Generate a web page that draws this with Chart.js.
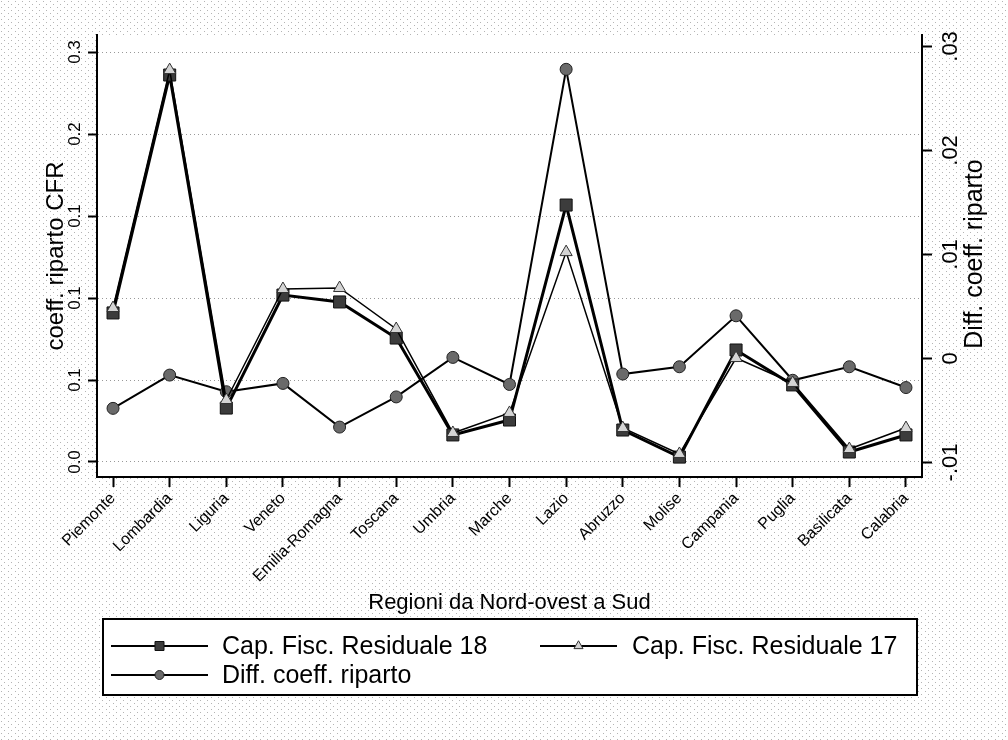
<!DOCTYPE html>
<html>
<head>
<meta charset="utf-8">
<script src="https://cdn.jsdelivr.net/npm/chart.js@4"></script>
<style>
  body { margin: 0; background: #fff; }
  canvas { display: block; }
</style>
</head>
<body>
<canvas id="lineChart" width="1008" height="740"></canvas>
<script>
// Regions, north-west to south
const regions = ['Piemonte', 'Lombardia', 'Liguria', 'Veneto', 'Emilia-Romagna', 'Toscana', 'Umbria',
  'Marche', 'Lazio', 'Abruzzo', 'Molise', 'Campania', 'Puglia', 'Basilicata', 'Calabria'];

// values (left axis)
const capFisc18 = [0.0909, 0.2360, 0.0329, 0.1018, 0.0976, 0.0756, 0.0165, 0.0256,
  0.1567, 0.0195, 0.0030, 0.0683, 0.0470, 0.0061, 0.0165];
const capFisc17 = [0.0939, 0.2390, 0.0378, 0.1055, 0.1061, 0.0811, 0.0177, 0.0299,
  0.1280, 0.0207, 0.0049, 0.0634, 0.0482, 0.0079, 0.0207];
// right axis
const diffCoeff = [-0.0048, -0.0016, -0.0032, -0.0024, -0.0066, -0.0037, 0.0001, -0.0025,
  0.0278, -0.0015, -0.0008, 0.0041, -0.0021, -0.0008, -0.0028];

// tick values and the labels printed on them
const leftTicks = [0, 0.05, 0.1, 0.15, 0.2, 0.25];
const leftTickLabels = ['0.0', '0.1', '0.1', '0.1', '0.2', '0.3'];
const rightTicks = [-0.01, 0, 0.01, 0.02, 0.03];
const rightTickLabels = ['-.01', '0', '.01', '.02', '.03'];

const FONT = '"Liberation Sans", Arial, sans-serif';

const toPoints = arr => arr.map((v, i) => ({ x: i, y: v }));

// sparse dots outside the plot region, like the scanned original
function dotPattern(ctx) {
  const c = document.createElement('canvas');
  c.width = 7; c.height = 6;
  const g = c.getContext('2d');
  g.fillStyle = '#fff';
  g.fillRect(0, 0, 7, 6);
  g.fillStyle = '#b4b4b4';
  g.fillRect(1, 1, 1, 1);
  g.fillRect(4, 4, 1, 1);
  return ctx.createPattern(c, 'repeat');
}

const paper = {
  id: 'paper',
  beforeDraw(chart) {
    const { ctx, chartArea: a } = chart;
    ctx.save();
    ctx.fillStyle = dotPattern(ctx);
    ctx.fillRect(0, 0, chart.width, chart.height);
    ctx.fillStyle = '#fff';
    ctx.fillRect(a.left, a.top, a.right - a.left, a.bottom - a.top);
    ctx.restore();
  }
};

// right axis title reads bottom-to-top, and the boxed legend below
const extras = {
  id: 'extras',
  afterDraw(chart) {
    const ctx = chart.ctx;
    ctx.save();
    ctx.fillStyle = '#000';
    ctx.font = '25px ' + FONT;
    ctx.textAlign = 'center';
    ctx.textBaseline = 'middle';
    ctx.translate(975, 254);
    ctx.rotate(-Math.PI / 2);
    ctx.fillText('Diff. coeff. riparto', 0, 0);
    ctx.restore();

    // legend
    const box = { left: 103, top: 619, right: 917, bottom: 695 };
    ctx.save();
    ctx.fillStyle = '#fff';
    ctx.fillRect(box.left, box.top, box.right - box.left, box.bottom - box.top);
    ctx.strokeStyle = '#000';
    ctx.lineWidth = 2;
    ctx.strokeRect(box.left, box.top, box.right - box.left, box.bottom - box.top);
    const items = [
      { ds: 0, x: 111, len: 97, y: 646, tx: 222 },
      { ds: 1, x: 540, len: 77, y: 646, tx: 632 },
      { ds: 2, x: 111, len: 97, y: 675, tx: 222 }
    ];
    items.forEach(it => {
      const ds = chart.data.datasets[it.ds];
      ctx.strokeStyle = '#000';
      ctx.lineWidth = 2;
      ctx.beginPath();
      ctx.moveTo(it.x, it.y);
      ctx.lineTo(it.x + it.len, it.y);
      ctx.stroke();
      ctx.fillStyle = ds.pointBackgroundColor;
      ctx.strokeStyle = ds.pointBorderColor;
      ctx.lineWidth = 1;
      Chart.helpers.drawPoint(ctx, { pointStyle: ds.pointStyle, radius: ds.pointRadius * 0.75, borderWidth: 1, rotation: 0 },
        it.x + it.len / 2, it.y);
      ctx.fillStyle = '#000';
      ctx.font = '25px ' + FONT;
      ctx.textAlign = 'left';
      ctx.textBaseline = 'middle';
      ctx.fillText(ds.label, it.tx, it.y + 1);
    });
    ctx.restore();
  }
};

new Chart(document.getElementById('lineChart'), {
  type: 'line',
  data: {
    datasets: [
      {
        label: 'Cap. Fisc. Residuale 18',
        data: toPoints(capFisc18),
        yAxisID: 'y',
        borderColor: '#000',
        borderWidth: 3,
        pointStyle: 'rect',
        pointRadius: 8.5,
        pointBackgroundColor: '#3c3c3c',
        pointBorderColor: '#111',
        pointBorderWidth: 1,
        order: 1
      },
      {
        label: 'Cap. Fisc. Residuale 17',
        data: toPoints(capFisc17),
        yAxisID: 'y',
        borderColor: '#000',
        borderWidth: 1.5,
        pointStyle: 'triangle',
        pointRadius: 7,
        pointBackgroundColor: '#d4d4d4',
        pointBorderColor: '#333',
        pointBorderWidth: 1,
        order: 0
      },
      {
        label: 'Diff. coeff. riparto',
        data: toPoints(diffCoeff),
        yAxisID: 'y2',
        borderColor: '#000',
        borderWidth: 2,
        pointStyle: 'circle',
        pointRadius: 6,
        pointBackgroundColor: '#6a6a6a',
        pointBorderColor: '#222',
        pointBorderWidth: 1,
        order: 2
      }
    ]
  },
  options: {
    responsive: false,
    animation: false,
    layout: { padding: { top: 35, left: 0, right: 0, bottom: 0 } },
    elements: { line: { tension: 0 } },
    plugins: { legend: { display: false }, tooltip: { enabled: false } },
    scales: {
      x: {
        type: 'linear',
        min: -0.283,
        max: 14.283,
        afterBuildTicks: s => { s.ticks = regions.map((_, i) => ({ value: i })); },
        afterFit: s => { s.height = 263; },
        ticks: {
          autoSkip: false,
          minRotation: 45,
          maxRotation: 45,
          padding: 2,
          color: '#000',
          font: { family: FONT, size: 16 },
          callback: v => regions[v]
        },
        grid: { drawOnChartArea: false, tickLength: 10, tickColor: '#000', tickWidth: 2 },
        border: { color: '#000', width: 2 },
        title: {
          display: true,
          text: 'Regioni da Nord-ovest a Sud',
          color: '#000',
          font: { family: FONT, size: 22 },
          padding: { top: 0, bottom: 124 }
        }
      },
      y: {
        position: 'left',
        min: -0.00915,
        max: 0.2604,
        afterBuildTicks: s => { s.ticks = leftTicks.map(v => ({ value: v })); },
        afterFit: s => { s.width = 97; },
        ticks: {
          minRotation: 90,
          maxRotation: 90,
          crossAlign: 'center',
          padding: 1,
          color: '#000',
          font: { family: FONT, size: 17 },
          callback: (v, i) => leftTickLabels[i]
        },
        grid: { color: '#999', lineWidth: 1, tickLength: 9, tickColor: '#000', tickWidth: 2 },
        border: { color: '#000', width: 2, dash: [1, 3] },
        title: {
          display: true,
          text: 'coeff. riparto CFR',
          color: '#000',
          font: { family: FONT, size: 24 },
          padding: { top: 42, bottom: 0 }
        }
      },
      y2: {
        position: 'right',
        min: -0.0114,
        max: 0.0311,
        afterBuildTicks: s => { s.ticks = rightTicks.map(v => ({ value: v })); },
        afterFit: s => { s.width = 86; },
        ticks: {
          minRotation: 90,
          maxRotation: 90,
          crossAlign: 'center',
          padding: 0,
          color: '#000',
          font: { family: FONT, size: 22 },
          callback: (v, i) => rightTickLabels[i]
        },
        grid: { drawOnChartArea: false, tickLength: 10, tickColor: '#000', tickWidth: 2 },
        border: { color: '#000', width: 2 }
      }
    }
  },
  plugins: [paper, extras]
});
</script>
</body>
</html>
